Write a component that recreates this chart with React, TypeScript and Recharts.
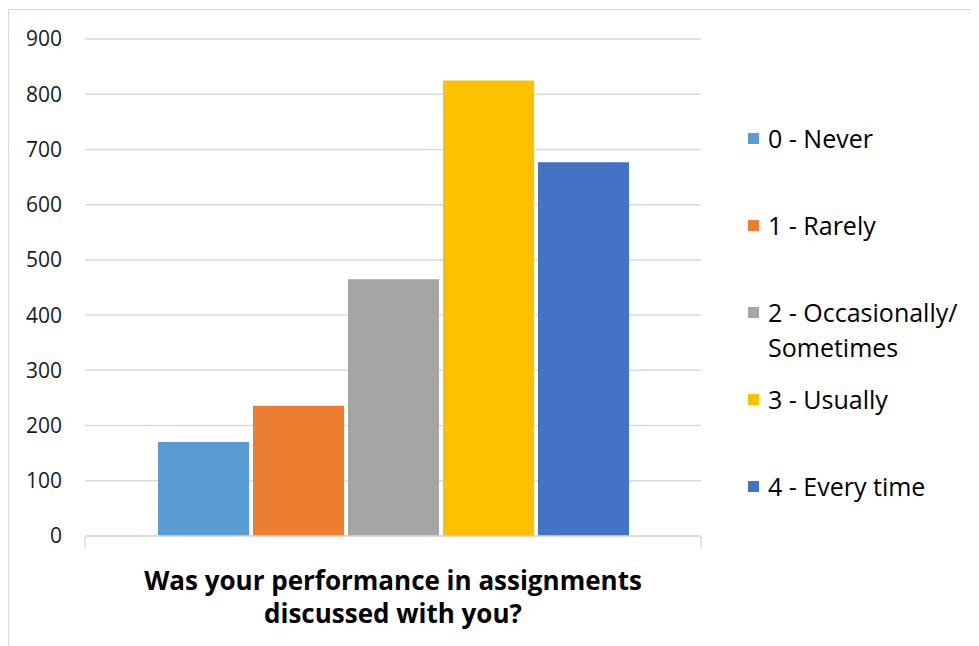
import { BarChart, Bar, XAxis, YAxis, CartesianGrid, Legend, Label } from 'recharts'

const CATEGORIES = ['Was your performance in assignments discussed with you?']
const SERIES_NAMES = ['0 - Never', '1 - Rarely', '2 - Occasionally/ Sometimes', '3 - Usually', '4 - Every time']
const SERIES_VALUES = [170, 236, 465, 825, 677]
const SERIES_KEYS = ['never', 'rarely', 'sometimes', 'usually', 'everytime']
const COLORS = ['#5B9BD5', '#ED7D31', '#A5A5A5', '#FFC000', '#4472C4']
const Y_TICKS = [0, 100, 200, 300, 400, 500, 600, 700, 800, 900]
const TITLE_LINES = ['Was your performance in assignments', 'discussed with you?']

const data = CATEGORIES.map(name => {
  const row: Record<string, string | number> = { name }
  SERIES_KEYS.forEach((k, i) => { row[k] = SERIES_VALUES[i] })
  return row
})

const FONT = '"Open Sans", sans-serif'
const GRID = '#d9d9d9'

function TitleLabel(props: any) {
  const { x, y, width } = props.viewBox
  const cx = x + width / 2
  return (
    <text x={cx} y={y + 54} textAnchor="middle" fontFamily={FONT} fontWeight={700} fontSize={26} fill="#000">
      {TITLE_LINES.map((line, i) => (
        <tspan key={i} x={cx} dy={i === 0 ? 0 : 33}>{line}</tspan>
      ))}
    </text>
  )
}

// category name is shown as the title, so the tick only marks the band edges
function EdgeTick(props: any) {
  const { x, y, payload } = props
  const half = payload && payload.offset ? payload.offset : 0
  return (
    <g>
      <line x1={x - half} x2={x - half} y1={y - 1} y2={y + 10} stroke={GRID} strokeWidth={1.5} />
      <line x1={x + half} x2={x + half} y1={y - 1} y2={y + 10} stroke={GRID} strokeWidth={1.5} />
    </g>
  )
}

function LegendContent(props: any) {
  const { payload } = props
  return (
    <div style={{ fontFamily: FONT, fontSize: 25, color: '#000' }}>
      {payload.map((entry: any) => (
        <div key={entry.value} style={{ height: 87, display: 'flex', alignItems: 'flex-start' }}>
          <span style={{ width: 11, height: 11, background: entry.color, marginTop: 12, marginRight: 9, flex: 'none' }} />
          <span style={{ lineHeight: '35px', width: 210 }}>{entry.value}</span>
        </div>
      ))}
    </div>
  )
}

export default function App() {
  return (
    <div style={{ position: 'relative', width: 980, height: 650, marginTop: 1, border: '1px solid #d9d9d9', overflow: 'hidden' }}>
      <style>{'body{overflow:hidden}'}</style>
      <BarChart
        width={960}
        height={636}
        data={data}
        margin={{ top: 29, right: 268, bottom: 0, left: 0 }}
        barCategoryGap={73}
        barGap={4}
      >
        <CartesianGrid vertical={false} stroke={GRID} strokeWidth={1.5} />
        <XAxis
          dataKey="name"
          height={110}
          axisLine={{ stroke: GRID, strokeWidth: 1.5 }}
          tickLine={false}
          tickSize={0}
          tick={<EdgeTick />}
        >
          <Label content={<TitleLabel />} />
        </XAxis>
        <YAxis
          width={76}
          domain={[0, 900]}
          ticks={Y_TICKS}
          axisLine={false}
          tickLine={false}
          tickSize={0}
          tickMargin={23}
          tick={{ fontFamily: FONT, fontSize: 21, fill: '#1a1a1a' }}
        />
        <Legend
          layout="vertical"
          align="center"
          verticalAlign="middle"
          content={<LegendContent />}
          wrapperStyle={{ left: 739, top: 111, width: 235 }}
        />
        {SERIES_KEYS.map((k, i) => (
          <Bar key={k} dataKey={k} name={SERIES_NAMES[i]} fill={COLORS[i]} isAnimationActive={false} />
        ))}
      </BarChart>
    </div>
  )
}
